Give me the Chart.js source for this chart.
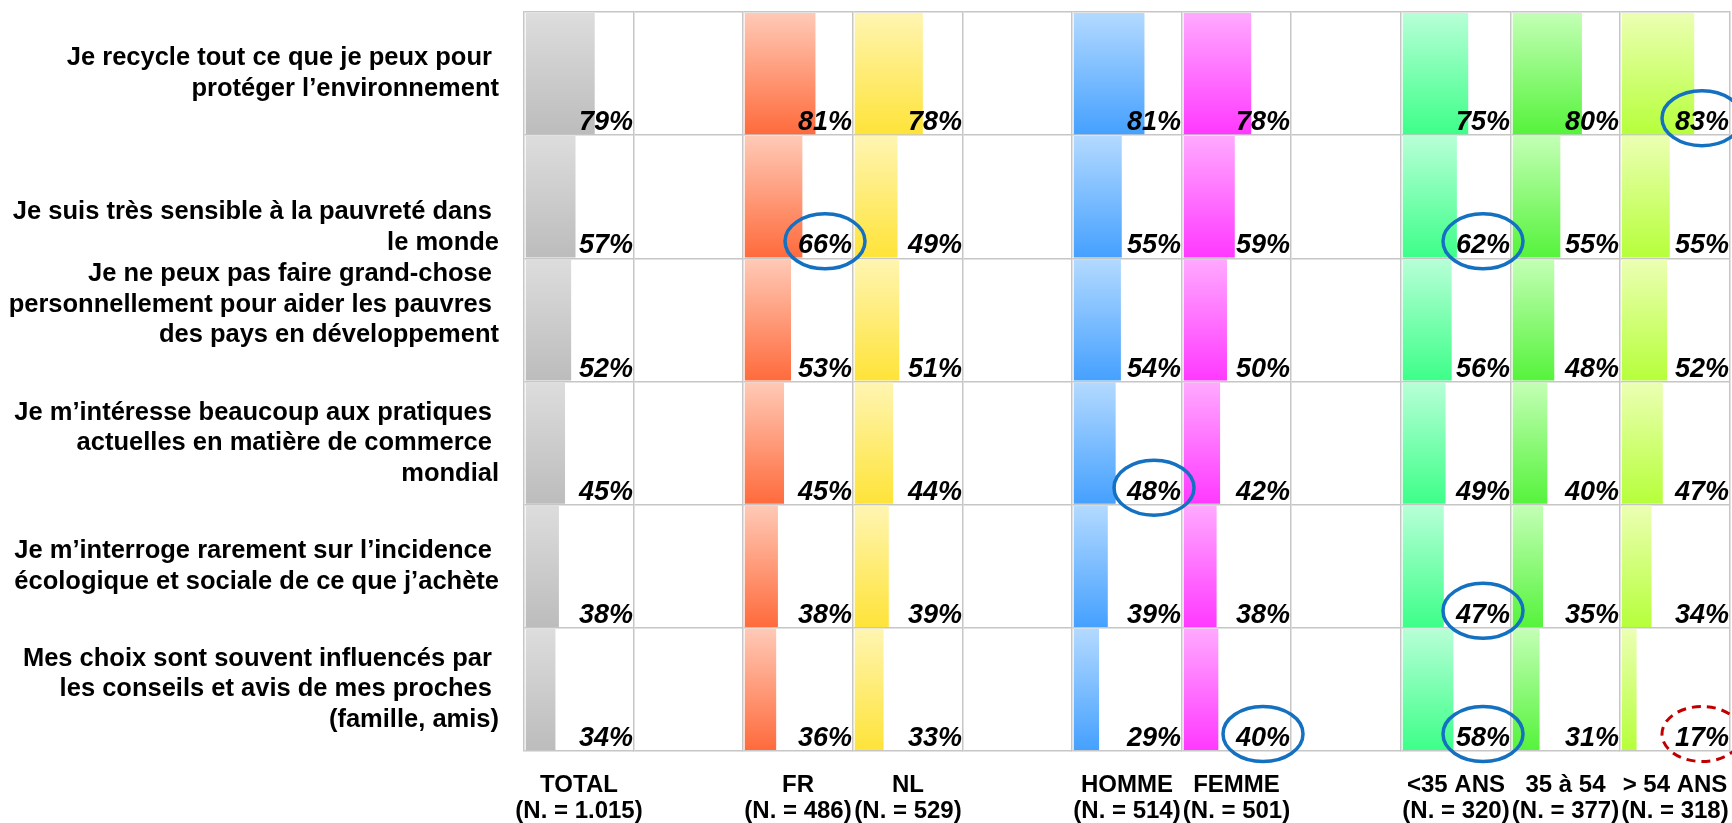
<!DOCTYPE html>
<html><head><meta charset="utf-8">
<script src="https://cdn.jsdelivr.net/npm/chart.js@4.4.1/dist/chart.umd.min.js"></script>
<style>
html,body{margin:0;padding:0;background:#fff;}
#wrap{position:relative;width:1732px;height:823px;overflow:hidden;background:#fff;}
.cell{position:absolute;top:0;height:823px;}
</style></head><body><div id="wrap"></div>
<script>
// ---------- data ----------
// (empty strings keep the labels at the same height as in the original slide)
const statements = [
  ["Je recycle tout ce que je peux pour ", "protéger l’environnement"],
  ["", "", "Je suis très sensible à la pauvreté dans ", "le monde"],
  ["Je ne peux pas faire grand-chose ", "personnellement pour aider les pauvres ", "des pays en développement", ""],
  ["Je m’intéresse beaucoup aux pratiques ", "actuelles en matière de commerce ", "mondial"],
  ["Je m’interroge rarement sur l’incidence ", "écologique et sociale de ce que j’achète"],
  ["Mes choix sont souvent influencés par ", "les conseils et avis de mes proches ", "(famille, amis)"]
];
const groupNames  = ["TOTAL", "FR", "NL", "HOMME", "FEMME", "<35 ANS", "35 à 54", "> 54 ANS"];
const sampleSizes = ["(N. = 1.015)", "(N. = 486)", "(N. = 529)", "(N. = 514)", "(N. = 501)", "(N. = 320)", "(N. = 377)", "(N. = 318)"];

const totalValues  = [79, 57, 52, 45, 38, 34];
const frValues     = [81, 66, 53, 45, 38, 36];
const nlValues     = [78, 49, 51, 44, 39, 33];
const hommeValues  = [81, 55, 54, 48, 39, 29];
const femmeValues  = [78, 59, 50, 42, 38, 40];
const under35Values = [75, 62, 56, 49, 47, 58];
const from35to54Values = [80, 55, 48, 40, 35, 31];
const over54Values = [83, 55, 52, 47, 34, 17];

// highlighted cells (row indices per group)
const blueRings = { "FR": [1], "HOMME": [3], "FEMME": [5], "<35 ANS": [1, 4, 5], "> 54 ANS": [0] };
const redRings  = { "> 54 ANS": [5] };

// ---------- styling ----------
const seriesValues = {
  "TOTAL": totalValues, "FR": frValues, "NL": nlValues, "HOMME": hommeValues,
  "FEMME": femmeValues, "<35 ANS": under35Values, "35 à 54": from35to54Values, "> 54 ANS": over54Values
};
const barColors = {
  "TOTAL": ["#dddddd", "#bcbcbc"],
  "FR": ["#ffcab7", "#ff6a3b"],
  "NL": ["#fff5b2", "#ffe338"],
  "HOMME": ["#b4daff", "#44a0ff"],
  "FEMME": ["#ffaaff", "#ff38ff"],
  "<35 ANS": ["#b8ffd7", "#3cff88"],
  "35 à 54": ["#c4ffb6", "#55f33b"],
  "> 54 ANS": ["#ecffb4", "#b6ff3a"]
};
// column slots (null = empty spacer column)
const slots = ["TOTAL", null, "FR", "NL", null, "HOMME", "FEMME", null, "<35 ANS", "35 à 54", "> 54 ANS"];

const FONT = '"Liberation Sans", Arial, sans-serif';
const GRID_LEFT = 524, GRID_RIGHT = 1730, GRID_TOP = 12, GRID_BOTTOM = 751, H = 823, PAD = 36;
const GRID_COLOR = "#c6c6c6";
const colW = (GRID_RIGHT - GRID_LEFT) / slots.length;

const cellDeco = {
  id: "cellDeco",
  afterDatasetsDraw(chart, args, opts) {
    const { ctx, chartArea: a, scales: { y } } = chart;
    const half = (y.getPixelForValue(1) - y.getPixelForValue(0)) / 2;
    ctx.save();
    if (opts.values) {
      ctx.font = "italic bold 27px " + FONT;
      ctx.fillStyle = "#000";
      ctx.textAlign = "right";
      ctx.textBaseline = "alphabetic";
      opts.values.forEach((v, i) => {
        const yb = y.getPixelForValue(i) + half;
        ctx.fillText(v + "%", a.right - 1, yb - 5);
      });
    }
    const ring = (i, color, dash) => {
      const yb = y.getPixelForValue(i) + half;
      ctx.beginPath();
      ctx.ellipse(a.right - 28, yb - 17, 40, 27.5, 0, 0, Math.PI * 2);
      ctx.strokeStyle = color;
      ctx.lineWidth = dash ? 3 : 3.5;
      ctx.setLineDash(dash ? [9, 6] : []);
      ctx.stroke();
    };
    (opts.blue || []).forEach(i => ring(i, "#1470c0", false));
    (opts.red || []).forEach(i => ring(i, "#c00000", true));
    ctx.setLineDash([]);
    if (opts.header) {
      ctx.font = "bold 24px " + FONT;
      ctx.fillStyle = "#000";
      ctx.textAlign = "center";
      ctx.textBaseline = "alphabetic";
      const cx = (a.left + a.right) / 2;
      ctx.fillText(opts.header[0], cx, a.bottom + 41);
      ctx.fillText(opts.header[1], cx, a.bottom + 67);
    }
    ctx.restore();
  }
};
Chart.register(cellDeco);

const wrap = document.getElementById("wrap");
slots.forEach((name, i) => {
  const left = Math.round(GRID_LEFT + i * colW);
  const right = Math.round(GRID_LEFT + (i + 1) * colW);
  const first = i === 0, last = i === slots.length - 1;
  const div = document.createElement("div");
  div.className = "cell";
  const divLeft = first ? 0 : left - PAD;
  const divW = first ? right + PAD : (right - left) + 2 * PAD;
  div.style.left = divLeft + "px";
  div.style.width = divW + "px";
  div.style.zIndex = String(100 - i);
  const cv = document.createElement("canvas");
  div.appendChild(cv);
  wrap.appendChild(div);

  const gi = name ? groupNames.indexOf(name) : -1;
  const datasets = name ? [{
    label: name,
    data: seriesValues[name],
    borderWidth: 0,
    categoryPercentage: 1,
    barPercentage: 0.985,
    backgroundColor: (c) => {
      const cols = barColors[name];
      const ys = c.chart.scales.y;
      if (!ys || c.type !== "data") return cols[1];
      const ctr = ys.getPixelForValue(c.dataIndex);
      const hh = (ys.getPixelForValue(1) - ys.getPixelForValue(0)) / 2;
      if (!isFinite(ctr) || !isFinite(hh)) return cols[1];
      const g = c.chart.ctx.createLinearGradient(0, ctr - hh, 0, ctr + hh);
      g.addColorStop(0, cols[0]);
      g.addColorStop(1, cols[1]);
      return g;
    }
  }] : [];

  const fitY = (s) => {
    s.width = first ? GRID_LEFT : 0;
    s.paddingTop = 0; s.paddingBottom = 0; s.paddingLeft = 0; s.paddingRight = 0;
  };
  const scales = {
    x: { type: "linear", min: -2, max: 124, display: false },
    y: {
      type: "category", position: "left", offset: true,
      grid: { color: GRID_COLOR, lineWidth: 1.5, drawTicks: false, offset: true },
      border: { display: true, color: GRID_COLOR, width: 1.5 },
      ticks: {
        display: first, autoSkip: false, padding: 25, color: "#000",
        font: { family: FONT, size: 25.5, weight: "bold", lineHeight: 1.2 }
      },
      afterFit: fitY
    }
  };
  if (last) {
    scales.y2 = {
      type: "category", position: "right",
      grid: { display: false, drawTicks: false },
      border: { display: true, color: GRID_COLOR, width: 1.5 },
      ticks: { display: false },
      afterFit(s) { s.width = 0; s.paddingTop = 0; s.paddingBottom = 0; }
    };
  }

  new Chart(cv, {
    type: "bar",
    data: { labels: statements, datasets },
    options: {
      indexAxis: "y",
      responsive: true,
      maintainAspectRatio: false,
      animation: false,
      layout: { padding: { left: first ? 0 : PAD, right: PAD, top: GRID_TOP, bottom: H - GRID_BOTTOM } },
      plugins: {
        legend: { display: false },
        tooltip: { enabled: false },
        cellDeco: name ? {
          values: seriesValues[name],
          header: [name, sampleSizes[gi]],
          blue: blueRings[name] || [],
          red: redRings[name] || []
        } : {}
      },
      scales
    }
  });
});
</script>
</body></html>
